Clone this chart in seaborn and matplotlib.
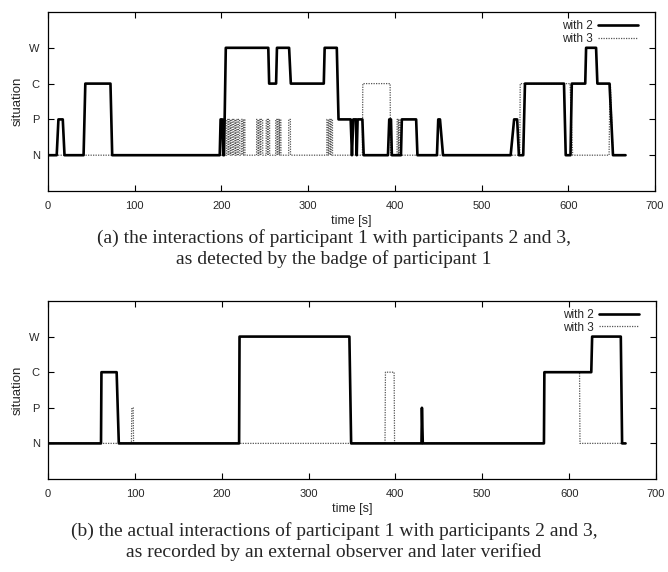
import numpy as np
import pandas as pd
import matplotlib
matplotlib.use("Agg")
import matplotlib.pyplot as plt
import seaborn as sns

# situation levels: N=1, P=2, C=3, W=4
level_names = ["N", "P", "C", "W"]
level_pos = [1, 2, 3, 4]
x_ticks = [0, 100, 200, 300, 400, 500, 600, 700]

# (a) detected by the badge - with 2 (vertices of the trace)
a2_t = [0, 10, 12, 17, 19, 41, 43, 72, 74, 198, 199, 201, 202, 203, 205, 254, 255,
        263, 264, 278, 280, 318, 319, 333, 335, 349, 350.5, 352, 355, 356, 357, 362.5,
        364, 392, 393.5, 395.5, 396.5, 407, 408, 424.5, 426, 448.5, 450, 452, 455.5,
        533.5, 537.5, 541, 543, 548, 550, 595, 597, 602.5, 604, 619.5, 620.5, 632,
        633.5, 647.5, 651.5, 666]
a2_s = [1, 1, 2, 2, 1, 1, 3, 3, 1, 1, 2, 2, 1, 1, 4, 4, 3,
        3, 4, 4, 3, 3, 4, 4, 2, 2, 1, 2, 2, 1, 2, 2,
        1, 1, 2, 2, 1, 1, 2, 2, 1, 1, 2, 2, 1,
        1, 2, 2, 1, 1, 3, 3, 1, 1, 3, 3, 4, 4,
        3, 3, 1, 1]

# (a) with 3: short "P" pulses (start, end) then longer blocks
a3_pulses = [(206, 207.5), (208.5, 210), (211, 212.5), (214, 215.5), (216.5, 218),
             (219.5, 221), (223, 224.5), (225.5, 227), (240.5, 242), (243, 244.5),
             (245.5, 247.5), (251.5, 253), (254, 255.5), (262.5, 264), (265, 266.5),
             (267, 268.5), (277.5, 279.5), (321.5, 323), (324, 325.5), (326.5, 328)]
a3_tail_t = [362.5, 363, 394.5, 395, 402.5, 402.6, 404, 404.1, 404.5, 404.6, 406, 406.1,
             544, 544.5, 602, 605, 647, 648, 648.5, 651.5, 666]
a3_tail_s = [1, 3, 3, 1, 1, 2, 2, 1, 1, 2, 2, 1,
             1, 3, 3, 1, 1, 3, 3, 1, 1]

# (b) observed - with 2
b2_t = [0, 61, 61.5, 79, 81.5, 220, 220.5, 347, 349, 430, 430.5, 431.5,
        571, 571.5, 625.5, 626.5, 659.5, 661, 665]
b2_s = [1, 1, 3, 3, 1, 1, 4, 4, 1, 1, 2, 1,
        1, 3, 3, 4, 4, 1, 1]

# (b) observed - with 3
b3_t = [0, 96, 96.5, 98, 98.5, 388, 388.5, 398.5, 399, 571, 571.5, 612, 612.5, 661]
b3_s = [1, 1, 2, 2, 1, 1, 3, 3, 1, 1, 3, 3, 1, 1]

# build the pulse trace for (a) with 3
a3_t, a3_s = [0], [1]
for start, end in a3_pulses:
    a3_t += [start, start + 0.1, end, end + 0.1]
    a3_s += [1, 2, 2, 1]
a3_t += a3_tail_t
a3_s += a3_tail_s

sns.set_style("ticks")
plt.rcParams["font.family"] = ["Liberation Sans", "DejaVu Sans"]
plt.rcParams["xtick.direction"] = "in"
plt.rcParams["ytick.direction"] = "in"

fig = plt.figure(figsize=(6.68, 5.72), dpi=100)
ax_a = fig.add_axes([0.0719, 0.6661, 0.9087, 0.3129])
ax_b = fig.add_axes([0.0719, 0.1626, 0.9101, 0.3112])

panels = [(ax_a, a2_t, a2_s, a3_t, a3_s), (ax_b, b2_t, b2_s, b3_t, b3_s)]
for ax, t2, s2, t3, s3 in panels:
    sns.lineplot(x=t3, y=s3, ax=ax, estimator=None, sort=False, color="#555555",
                 linewidth=0.9, linestyle=(0, (1, 1)), label="with 3")
    sns.lineplot(x=t2, y=s2, ax=ax, estimator=None, sort=False, color="black",
                 linewidth=1.9, label="with 2")
    ax.set_xlim(0, 700)
    ax.set_ylim(0, 5)
    ax.set_xticks(x_ticks)
    ax.set_yticks(level_pos)
    ax.set_yticklabels(level_names)
    ax.tick_params(axis="both", which="both", top=True, right=True, length=4,
                   width=0.8, labelsize=8, color="black")
    ax.tick_params(axis="x", pad=7)
    ax.tick_params(axis="y", pad=6)
    for sp in ax.spines.values():
        sp.set_linewidth(0.9)
        sp.set_color("black")
    ax.set_xlabel("time [s]", fontsize=9, labelpad=3)
    ax.set_ylabel("situation", fontsize=9.5, labelpad=4)
    handles, labels = ax.get_legend_handles_labels()
    ax.legend(handles[::-1], labels[::-1], loc="upper right", bbox_to_anchor=(0.972, 0.955),
              frameon=False, markerfirst=False, fontsize=8.5, handlelength=3.4,
              handletextpad=0.4, labelspacing=0.05, borderaxespad=0, borderpad=0)

serif = ["Liberation Serif", "DejaVu Serif"]
fig.text(0.5, 1 - 238 / 572, "(a) the interactions of participant 1 with participants 2 and 3,",
         ha="center", va="center", fontsize=14, family=serif)
fig.text(0.5, 1 - 259 / 572, "as detected by the badge of participant 1",
         ha="center", va="center", fontsize=14, family=serif)
fig.text(0.5, 1 - 531 / 572, "(b) the actual interactions of participant 1 with participants 2 and 3,",
         ha="center", va="center", fontsize=14, family=serif)
fig.text(0.5, 1 - 552 / 572, "as recorded by an external observer and later verified",
         ha="center", va="center", fontsize=14, family=serif)

fig.savefig("out.png", dpi=100)
